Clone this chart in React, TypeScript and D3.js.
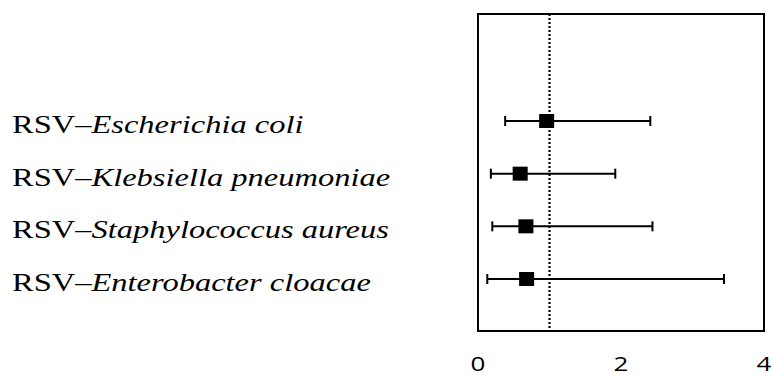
import React from "react";
import * as d3 from "d3";

// pathogen pairs, top to bottom
const pathogens = [
    "Escherichia coli",
    "Klebsiella pneumoniae",
    "Staphylococcus aureus",
    "Enterobacter cloacae",
];

// odds ratio and 95% CI
const estimates = [0.96, 0.59, 0.67, 0.68];
const lowerCI = [0.38, 0.18, 0.2, 0.13];
const upperCI = [2.41, 1.92, 2.44, 3.44];

const xTicks = [0, 2, 4];
const refValue = 1;

const width = 773;
const height = 377;
// the original picture is stretched sideways, text too
const stretch = 1.3;

const App = () => {
    const x = d3.scaleLinear().domain([0, 4]).range([478, 764]);
    const y = d3.scalePoint<string>().domain(pathogens).range([121, 279]);

    const boxTop = 14;
    const boxBottom = 331;
    const sq = 15;
    const capH = 10;

    return (
        <div style={{ position: "absolute", left: 0, top: 0 }}>
            <svg width={width} height={height} style={{ display: "block", background: "#fff" }}>
                {/* frame */}
                <rect
                    x={x(0)}
                    y={boxTop}
                    width={x(4) - x(0)}
                    height={boxBottom - boxTop}
                    fill="none"
                    stroke="#000"
                    strokeWidth={2}
                />
                {/* line of no effect */}
                <line
                    x1={x(refValue)}
                    x2={x(refValue)}
                    y1={boxTop}
                    y2={boxBottom}
                    stroke="#000"
                    strokeWidth={2.2}
                    strokeDasharray="2,2"
                />
                {pathogens.map((p, i) => {
                    const cy = y(p) as number;
                    return (
                        <g key={p}>
                            <line x1={x(lowerCI[i])} x2={x(upperCI[i])} y1={cy} y2={cy} stroke="#000" strokeWidth={2} />
                            <line x1={x(lowerCI[i])} x2={x(lowerCI[i])} y1={cy - capH / 2} y2={cy + capH / 2} stroke="#000" strokeWidth={2} />
                            <line x1={x(upperCI[i])} x2={x(upperCI[i])} y1={cy - capH / 2} y2={cy + capH / 2} stroke="#000" strokeWidth={2} />
                            <rect x={x(estimates[i]) - sq / 2} y={cy - 7} width={sq} height={14} fill="#000" />
                            <text
                                transform={`translate(12,${cy + 12}) scale(${stretch},1)`}
                                fontFamily="'Liberation Serif', 'Times New Roman', serif"
                                fontSize={25}
                                fill="#000"
                            >
                                RSV–<tspan fontStyle="italic">{p}</tspan>
                            </text>
                        </g>
                    );
                })}
                {/* x axis labels */}
                {xTicks.map((t) => (
                    <text
                        key={t}
                        transform={`translate(${x(t)},371) scale(${stretch},1)`}
                        textAnchor="middle"
                        fontFamily="'Open Sans', 'DejaVu Sans', sans-serif"
                        fontSize={20}
                        fill="#000"
                    >
                        {t}
                    </text>
                ))}
            </svg>
        </div>
    );
};

export default App;
